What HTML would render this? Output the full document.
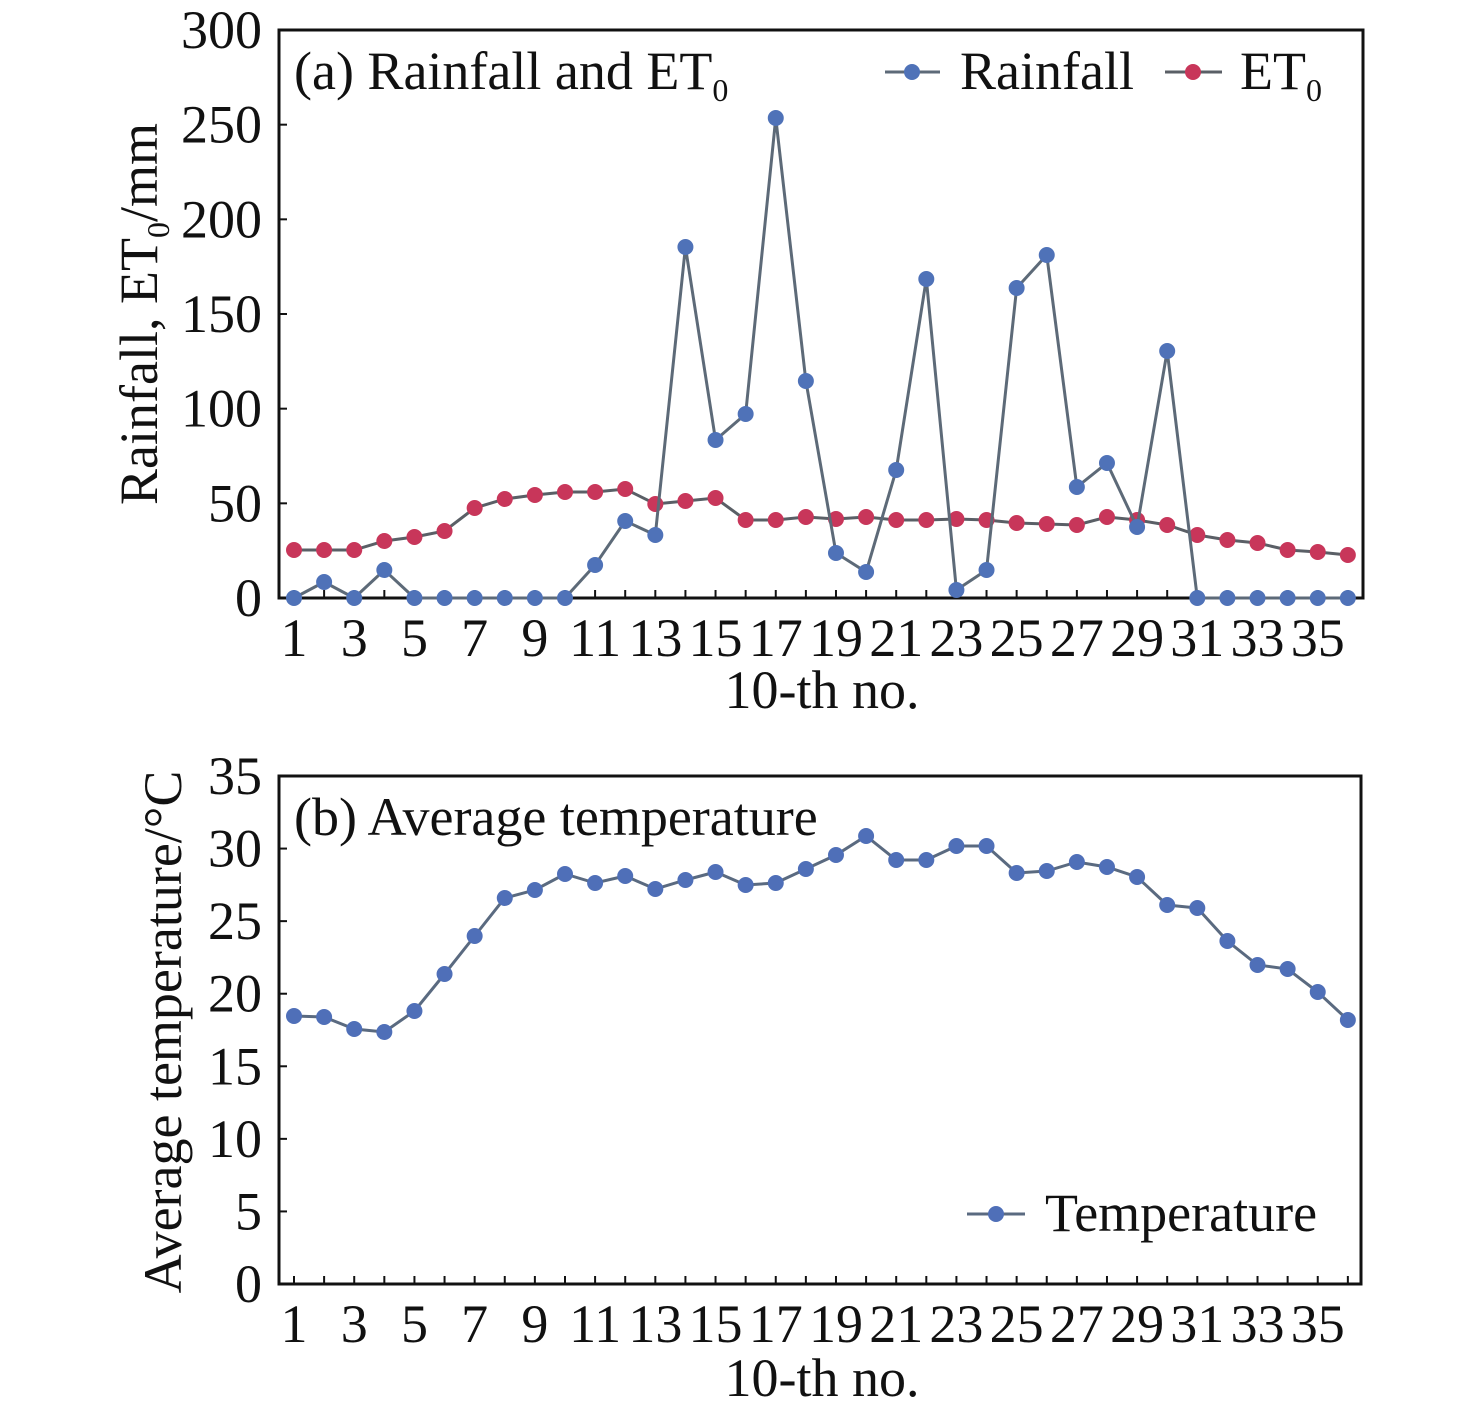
<!DOCTYPE html>
<html><head><style>
html,body{margin:0;padding:0;background:#fff;}
svg text{font-family:"Liberation Serif",serif;fill:#111;}
</style></head><body>
<svg width="1476" height="1413" viewBox="0 0 1476 1413" xmlns="http://www.w3.org/2000/svg">
<rect x="279" y="30" width="1084" height="568" fill="#fff" stroke="#111" stroke-width="3"/>
<rect x="279" y="776" width="1082" height="508" fill="#fff" stroke="#111" stroke-width="3"/>
<script>
(function(){
const NS="http://www.w3.org/2000/svg";
const svg=document.querySelector('svg');
function el(t,a,txt){const e=document.createElementNS(NS,t);for(const k in a)e.setAttribute(k,a[k]);if(txt!==undefined)e.textContent=txt;svg.appendChild(e);return e;}
function sub(t,txt,fs,dy){const s=document.createElementNS(NS,'tspan');s.setAttribute('font-size',fs);s.setAttribute('dy',dy);s.textContent=txt;t.appendChild(s);return s;}
const X=i=>294+(i-1)*30.11;
const F=54;
for(let i=1;i<=36;i++){el('line',{x1:X(i),x2:X(i),y1:598,y2:590,stroke:'#111','stroke-width':2});
 el('line',{x1:X(i),x2:X(i),y1:1284,y2:1276,stroke:'#111','stroke-width':2});
 if(i%2==1){el('text',{x:X(i),y:656,'font-size':F,'text-anchor':'middle'},String(i));
 el('text',{x:X(i),y:1342,'font-size':F,'text-anchor':'middle'},String(i));}}
for(let v=0;v<=300;v+=50){const y=598-v*568/300;el('line',{x1:279,x2:287,y1:y,y2:y,stroke:'#111','stroke-width':2});
 el('text',{x:262,y:y+18,'font-size':F,'text-anchor':'end'},String(v));}
for(let v=0;v<=35;v+=5){const y=1284-v*508/35;el('line',{x1:279,x2:287,y1:y,y2:y,stroke:'#111','stroke-width':2});
 el('text',{x:262,y:y+18,'font-size':F,'text-anchor':'end'},String(v));}
const rain=[598,582,598,570,598,598,598,598,598,598,565,521,535,247,440,414,118,381,553,572,470,279,590,570,288,255,487,463,527,351,598,598,598,598,598,598];
const et=[550,550,550,541,537,531,508,499,495,492,492,489,504,501,498,520,520,517,519,517,520,520,519,520,523,524,525,517,520,525,535,540,543,550,552,555];
const tmp=[1016,1017,1029,1032,1011,974,936,898,890,874,883,876,889,880,872,885,883,869,855,836,860,860,846,846,873,871,862,867,877,905,908,941,965,969,992,1020];
function series(d,lc,mc){el('polyline',{points:d.map((y,i)=>X(i+1)+','+y).join(' '),fill:'none',stroke:lc,'stroke-width':3});
 d.forEach((y,i)=>el('circle',{cx:X(i+1),cy:y,r:8,fill:mc}));}
series(et,'#5a5f66','#c8365a');
series(rain,'#5d6a78','#4f72b8');
series(tmp,'#5a6a80','#4f6fb8');
el('line',{x1:885,x2:940,y1:72,y2:72,stroke:'#5d6a78','stroke-width':3});el('circle',{cx:912,cy:72,r:8,fill:'#4f72b8'});
el('text',{x:960,y:89,'font-size':F},'Rainfall');
el('line',{x1:1165,x2:1222,y1:72,y2:72,stroke:'#5a5f66','stroke-width':3});el('circle',{cx:1193,cy:72,r:8,fill:'#c8365a'});
const t=el('text',{x:1240,y:89,'font-size':F},'ET');sub(t,'0',32,12);
const a=el('text',{x:294,y:89,'font-size':F},'(a) Rainfall and ET');sub(a,'0',32,12);
el('text',{x:294,y:835,'font-size':F},'(b) Average temperature');
el('line',{x1:967,x2:1025,y1:1214,y2:1214,stroke:'#5a6a80','stroke-width':3});el('circle',{cx:996,cy:1214,r:8,fill:'#4f6fb8'});
el('text',{x:1045,y:1231,'font-size':F},'Temperature');
el('text',{x:822,y:708,'font-size':F,'text-anchor':'middle'},'10-th no.');
el('text',{x:822,y:1396,'font-size':F,'text-anchor':'middle'},'10-th no.');
const yl=el('text',{x:0,y:0,'font-size':F,'text-anchor':'middle',transform:'translate(157,314) rotate(-90)'},'Rainfall, ET');
sub(yl,'0',32,12);sub(yl,'/mm',F,-12);
el('text',{x:0,y:0,'font-size':F,'text-anchor':'middle',transform:'translate(181,1032) rotate(-90)'},'Average temperature/°C');
})();
</script>
</svg>
</body></html>
